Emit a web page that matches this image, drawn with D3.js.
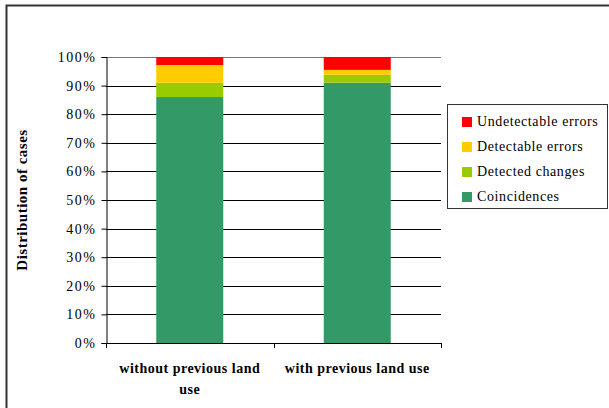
<!DOCTYPE html>
<html>
<head>
<meta charset="utf-8">
<script src="https://cdn.jsdelivr.net/npm/d3@7"></script>
<style>
  body { margin: 0; background: #fff; }
  text { font-family: "Liberation Serif", "Times New Roman", serif; }
</style>
</head>
<body>
<svg id="chart"></svg>
<script>
// donnees (en %)
var categories = ["without previous land use", "with previous land use"]
var series = ["Coincidences", "Detected changes", "Detectable errors", "Undetectable errors"]
var coincidences = [86.0, 91.0]
var detectedChanges = [5.0, 2.8]
var detectableErrors = [6.2, 1.7]
var undetectableErrors = [2.8, 4.5]
var yTicks = [0, 10, 20, 30, 40, 50, 60, 70, 80, 90, 100]
var colors = ["#339966", "#99CC00", "#FFCC00", "#FF0000"]

var width = 609, height = 408
var svg = d3.select("#chart").attr("width", width).attr("height", height)

// cadre du graphique (coupe a droite et en bas)
svg.append("rect")
  .attr("x", 6.5).attr("y", 5.5)
  .attr("width", 620).attr("height", 420)
  .attr("fill", "white")
  .attr("stroke", "#333").attr("stroke-width", 2)

var pLeft = 106, pRight = 441, pTop = 57, pBottom = 343

var x = d3.scaleBand().domain(categories).range([pLeft, pRight]).paddingInner(0.6).paddingOuter(0.3)
var y = d3.scaleLinear().domain([0, 100]).range([pBottom, pTop])

// tableau pour d3.stack
var table = categories.map(function(c, i){
  return {cat: c,
    "Coincidences": coincidences[i],
    "Detected changes": detectedChanges[i],
    "Detectable errors": detectableErrors[i],
    "Undetectable errors": undetectableErrors[i]}
})
var stacked = d3.stack().keys(series)(table)

// lignes de quadrillage
svg.append("g").selectAll("line")
  .data(yTicks.filter(function(d){ return d > 0 }))
  .enter().append("line")
  .attr("x1", pLeft).attr("x2", pRight)
  .attr("y1", function(d){ return Math.round(y(d)) + 0.5 })
  .attr("y2", function(d){ return Math.round(y(d)) + 0.5 })
  .attr("stroke", function(d){ return d == 100 ? "#777" : "#000" })
  .attr("stroke-width", 1)

// barres empilees
svg.append("g").selectAll("g")
  .data(stacked)
  .enter().append("g")
  .attr("fill", function(d, i){ return colors[i] })
  .selectAll("rect")
  .data(function(d){ return d })
  .enter().append("rect")
  .attr("x", function(d){ return x(d.data.cat) })
  .attr("width", x.bandwidth())
  .attr("y", function(d){ return y(d[1]) })
  .attr("height", function(d){ return y(d[0]) - y(d[1]) })

// axe y
var yAxis = d3.axisLeft(y).tickValues(yTicks).tickSize(5).tickPadding(5)
  .tickFormat(function(d){ return d + "%" })
var gy = svg.append("g").attr("transform", "translate(" + (pLeft + 0.5) + ",0)").call(yAxis)
gy.select(".domain").attr("stroke", "#000")
gy.selectAll(".tick line").attr("stroke", "#000")
gy.selectAll("text").attr("font-size", 14).attr("fill", "#000")
  .style("font-family", "Liberation Serif")
  .style("letter-spacing", "1.5px")

// axe x
svg.append("line")
  .attr("x1", pLeft).attr("x2", pRight)
  .attr("y1", pBottom + 0.5).attr("y2", pBottom + 0.5)
  .attr("stroke", "#000")
var xBounds = [pLeft, (pLeft + pRight) / 2, pRight]
svg.append("g").selectAll("line")
  .data(xBounds).enter().append("line")
  .attr("x1", function(d){ return Math.round(d) + 0.5 })
  .attr("x2", function(d){ return Math.round(d) + 0.5 })
  .attr("y1", pBottom).attr("y2", pBottom + 5)
  .attr("stroke", "#000")

// etiquettes de categories (sur deux lignes si besoin)
var catLines = [["without previous land", "use"], ["with previous land use"]]
categories.forEach(function(c, i){
  var t = svg.append("text")
    .attr("x", x(c) + x.bandwidth() / 2)
    .attr("y", 373)
    .attr("text-anchor", "middle")
    .attr("font-size", 14)
    .attr("font-weight", "bold")
    .style("letter-spacing", "0.5px")
  catLines[i].forEach(function(l, j){
    t.append("tspan")
      .attr("x", x(c) + x.bandwidth() / 2)
      .attr("dy", j == 0 ? 0 : 21)
      .text(l)
  })
})

// titre axe y
svg.append("text")
  .attr("transform", "translate(27," + ((pTop + pBottom) / 2) + ") rotate(-90)")
  .attr("text-anchor", "middle")
  .attr("font-size", 15)
  .attr("font-weight", "bold")
  .style("letter-spacing", "0.5px")
  .text("Distribution of cases")

// legende
var lg = svg.append("g")
lg.append("rect")
  .attr("x", 447.5).attr("y", 104.5)
  .attr("width", 160).attr("height", 104)
  .attr("fill", "white").attr("stroke", "#333").attr("stroke-width", 1)
var legendOrder = series.slice().reverse()
legendOrder.forEach(function(s, i){
  var c = colors[series.indexOf(s)]
  lg.append("rect")
    .attr("x", 462).attr("y", 117 + i * 25)
    .attr("width", 10).attr("height", 10)
    .attr("fill", c)
  lg.append("text")
    .attr("x", 477).attr("y", 126 + i * 25)
    .attr("font-size", 14)
    .attr("fill", "#000")
    .style("letter-spacing", "0.6px")
    .text(s)
})
</script>
</body>
</html>
